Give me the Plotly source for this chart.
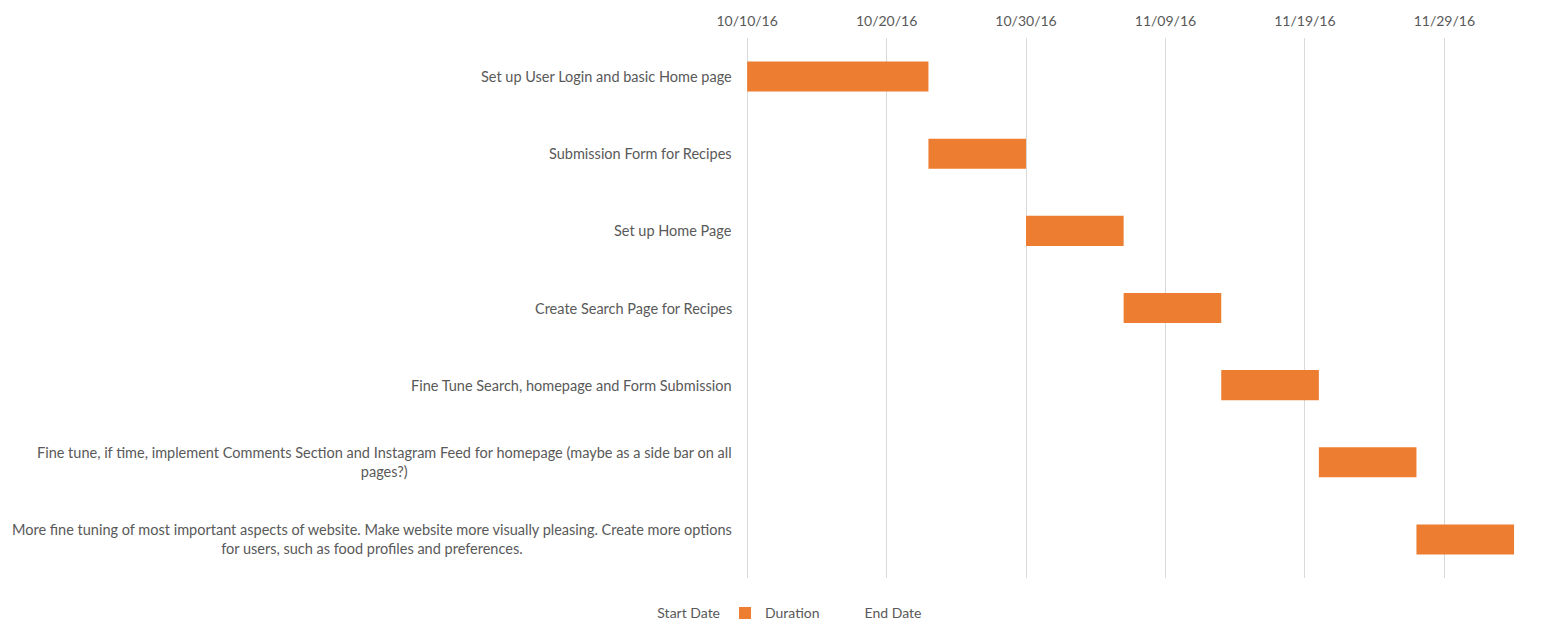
import plotly.graph_objects as go

tasks = [
    "Set up User Login and basic Home page",
    "Submission Form for Recipes",
    "Set up Home Page",
    "Create Search Page for Recipes",
    "Fine Tune Search, homepage and Form Submission",
    "Fine tune, if time, implement Comments Section and Instagram Feed for homepage (maybe as a side bar on all<br>pages?)",
    "More fine tuning of most important aspects of website. Make website more visually pleasing. Create more options<br>for users, such as food profiles and preferences.",
]
start_dates = ["2016-10-10", "2016-10-23", "2016-10-30", "2016-11-06", "2016-11-13", "2016-11-20", "2016-11-27"]
durations_days = [13, 7, 7, 7, 7, 7, 7]

DAY_MS = 86400000
ORANGE = "#ED7D31"
TXT = "#595959"
FONT = "Lato"

ids = [f"t{i}" for i in range(len(tasks))]

fig = go.Figure()
fig.add_trace(go.Bar(
    y=[ids[0]], x=[0], base=[start_dates[0]], orientation="h", name="Start Date",
    marker=dict(color="rgba(0,0,0,0)", line=dict(width=0)), showlegend=True, hoverinfo="skip",
))
fig.add_trace(go.Bar(
    y=ids, x=[d * DAY_MS for d in durations_days], base=start_dates,
    orientation="h", name="Duration", marker=dict(color=ORANGE, line=dict(width=0)),
    width=0.39,
))
fig.add_trace(go.Bar(
    y=[ids[0]], x=[0], base=[start_dates[0]], orientation="h", name="End Date",
    marker=dict(color="rgba(0,0,0,0)", line=dict(width=0)), showlegend=True, hoverinfo="skip",
))

for i, t in zip(ids, tasks):
    fig.add_annotation(
        x=0, xref="paper", y=i, yref="y", text=t, showarrow=False,
        xanchor="right", align="center", xshift=-12,
        font=dict(family=FONT, size=14.5, color=TXT),
    )

fig.update_layout(
    width=1554, height=639,
    margin=dict(l=746, r=26, t=35, b=61),
    paper_bgcolor="white", plot_bgcolor="white",
    font=dict(family=FONT, size=14, color=TXT),
    barmode="overlay",
    showlegend=True,
    legend=dict(orientation="h", x=0.497, xref="container", xanchor="center", y=0.015, yref="container",
                yanchor="bottom", font=dict(family=FONT, size=14, color=TXT),
                itemwidth=30, traceorder="normal", tracegroupgap=0),
    xaxis=dict(
        type="date", side="top", range=["2016-10-09 22:00", "2016-12-05"],
        tick0="2016-10-10", dtick=10 * DAY_MS, tickformat="%m/%d/%y",
        showgrid=True, gridcolor="#D9D9D9", gridwidth=1, zeroline=False,
        showline=False, ticks="", ticklabelstandoff=8,
        tickfont=dict(family=FONT, size=14, color=TXT),
    ),
    yaxis=dict(
        type="category", categoryorder="array", categoryarray=ids, autorange="reversed",
        showticklabels=False, showgrid=False, zeroline=False, showline=False,
    ),
)

fig.write_html("out.html")
